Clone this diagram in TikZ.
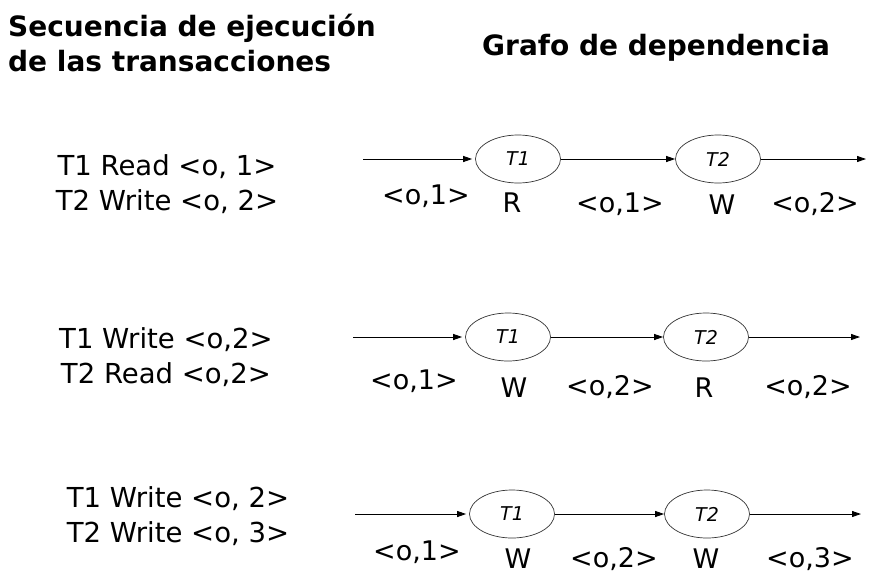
\documentclass[tikz,border=0pt]{standalone}
\usepackage{fontspec}
\setmainfont{DejaVu Sans}
\usetikzlibrary{shapes.geometric, arrows.meta}

\tikzset{
	trans/.style={ellipse, draw=black!80, line width=0.7pt, minimum width=85pt, minimum height=48pt, inner sep=0pt, font=\fontsize{19}{19}\selectfont\itshape},
	flow/.style={line width=0.9pt, -{Triangle[length=9pt,width=6pt]}},
	edgelbl/.style={inner sep=0pt, font=\fontsize{27}{27}\selectfont},
	oplbl/.style={inner sep=0pt, font=\fontsize{27}{27}\selectfont},
	seqtext/.style={inner sep=0pt, align=center, font=\fontsize{27.5}{35.5}\selectfont},
	heading/.style={inner sep=0pt, font=\fontsize{28}{35}\selectfont\bfseries}
}

\begin{document}
\begin{tikzpicture}[x=1pt,y=-1pt]

	\useasboundingbox (0,0) rectangle (869,576);

	% headings

	\node[heading, anchor=north west, align=left] (hseq) at (8,14) {Secuencia de ejecución\\de las transacciones};
	\node[heading, anchor=base west] (hgraph) at (482,55) {Grafo de dependencia};

	% first schedule

	\node[seqtext] (seqa) at (167,184) {T1 Read <o, 1>\\T2 Write <o, 2>};

	\coordinate (ina) at (363,159);
	\node[trans] (ta1) at (518,159) {T1};
	\node[trans] (ta2) at (718,159) {T2};
	\coordinate (outa) at (866,159);

	\draw[flow, shorten >=3pt] (ina) -- (ta1);
	\draw[flow] (ta1) -- (ta2);
	\draw[flow] (ta2) -- (outa);

	\node[edgelbl] (la1) at (426,196) {<o,1>};
	\node[oplbl] (oa1) at (512,203) {R};
	\node[edgelbl] (la2) at (620,204) {<o,1>};
	\node[oplbl] (oa2) at (722,205) {W};
	\node[edgelbl] (la3) at (815,204) {<o,2>};

	% second schedule

	\node[seqtext] (seqb) at (166,357) {T1 Write <o,2>\\T2 Read <o,2>};

	\coordinate (inb) at (353,337);
	\node[trans] (tb1) at (508,337) {T1};
	\node[trans] (tb2) at (706,337) {T2};
	\coordinate (outb) at (860,337);

	\draw[flow, shorten >=3pt] (inb) -- (tb1);
	\draw[flow] (tb1) -- (tb2);
	\draw[flow] (tb2) -- (outb);

	\node[edgelbl] (lb1) at (414,381) {<o,1>};
	\node[oplbl] (ob1) at (514,388) {W};
	\node[edgelbl] (lb2) at (610,387) {<o,2>};
	\node[oplbl] (ob2) at (704,388) {R};
	\node[edgelbl] (lb3) at (808,387) {<o,2>};

	% third schedule

	\node[seqtext] (seqc) at (178,516) {T1 Write <o, 2>\\T2 Write <o, 3>};

	\coordinate (inc) at (355,514);
	\node[trans] (tc1) at (512,514) {T1};
	\node[trans] (tc2) at (707,514) {T2};
	\coordinate (outc) at (861,514);

	\draw[flow, shorten >=3pt] (inc) -- (tc1);
	\draw[flow] (tc1) -- (tc2);
	\draw[flow] (tc2) -- (outc);

	\node[edgelbl] (lc1) at (417,552) {<o,1>};
	\node[oplbl] (oc1) at (518,559) {W};
	\node[edgelbl] (lc2) at (614,559) {<o,2>};
	\node[oplbl] (oc2) at (706,559) {W};
	\node[edgelbl] (lc3) at (810,559) {<o,3>};

\end{tikzpicture}
\end{document}
